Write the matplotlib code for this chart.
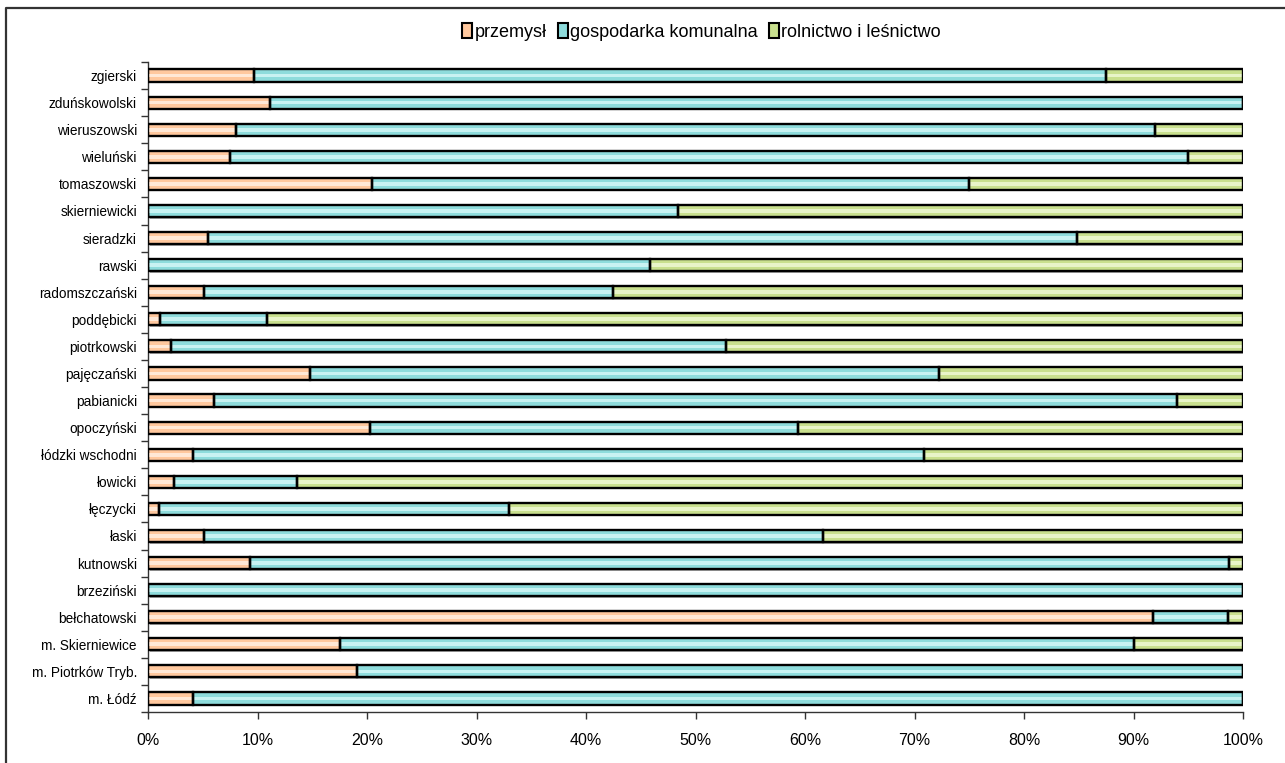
import matplotlib
matplotlib.use("Agg")
import matplotlib.pyplot as plt
import matplotlib.transforms as mtransforms
from matplotlib.patches import Patch
from matplotlib.lines import Line2D
import numpy as np

plt.rcParams['font.family'] = ['Liberation Sans', 'DejaVu Sans']

# Districts, listed bottom to top as drawn
districts = [
    "m. Łódź", "m. Piotrków Tryb.", "m. Skierniewice", "bełchatowski",
    "brzeziński", "kutnowski", "łaski", "łęczycki", "łowicki",
    "łódzki wschodni", "opoczyński", "pabianicki", "pajęczański",
    "piotrkowski", "poddębicki", "radomszczański", "rawski", "sieradzki",
    "skierniewicki", "tomaszowski", "wieluński", "wieruszowski",
    "zduńskowolski", "zgierski",
]

# Shares (%) per sector
przemysl = [4.1, 19.1, 17.5, 91.8, 0.0, 9.3, 5.1, 1.0, 2.4, 4.1, 20.3, 6.0,
            14.8, 2.1, 1.1, 5.1, 0.0, 5.5, 0.0, 20.5, 7.5, 8.0, 11.1, 9.7]
gospodarka = [95.9, 80.9, 72.5, 6.8, 100.0, 89.4, 56.5, 32.0, 11.2, 66.8,
              39.1, 88.0, 57.4, 50.7, 9.8, 37.4, 45.8, 79.3, 48.4, 54.5,
              87.5, 84.0, 88.9, 77.8]
rolnictwo = [0.0, 0.0, 10.0, 1.4, 0.0, 1.3, 38.4, 67.0, 86.4, 29.1, 40.6,
             6.0, 27.8, 47.2, 89.1, 57.5, 54.2, 15.2, 51.6, 25.0, 5.0, 8.0,
             0.0, 12.5]

series_names = ["przemysł", "gospodarka komunalna", "rolnictwo i leśnictwo"]
base_colors = ["#FFC89E", "#8EDCDC", "#C9E08E"]
light_colors = ["#FFE8D6", "#C8F2F2", "#E8F4C8"]

fig = plt.figure(figsize=(12.85, 7.63), dpi=100)
ax = fig.add_axes([148 / 1285, 1 - 712 / 763, (1243 - 148) / 1285, 650 / 763])

y = np.arange(len(districts))
bar_h = 0.45
data = [np.array(przemysl), np.array(gospodarka), np.array(rolnictwo)]
left = np.zeros(len(districts))

shadow_tr = mtransforms.offset_copy(ax.transData, fig=fig, x=1.5, y=-1.5, units='dots')
total = data[0] + data[1] + data[2]

# drop shadow under each whole bar
ax.barh(y, total, height=bar_h, left=0, color="#A8A8A8", edgecolor="none",
        transform=shadow_tr, zorder=1)

for vals, c, lc in zip(data, base_colors, light_colors):
    ax.barh(y, vals, height=bar_h, left=left, color=c, edgecolor="none", zorder=2)
    ax.barh(y, vals, height=bar_h * 0.3, left=left, color=lc, edgecolor="none", zorder=3)
    ax.barh(y, vals, height=bar_h, left=left, fill=False, edgecolor="black",
            linewidth=1.7, zorder=4)
    left = left + vals

ax.set_xlim(0, 100)
ax.set_ylim(-0.5, len(districts) - 0.5)
ax.set_xticks(np.arange(0, 101, 10))
ax.set_xticklabels([f"{v}%" for v in range(0, 101, 10)], fontsize=11.5)
ax.set_yticks(y)
ax.set_yticklabels(districts, fontsize=9.8)
ax.tick_params(axis='y', which='major', length=0, pad=8)
ax.set_yticks(np.arange(-0.5, len(districts), 1.0), minor=True)
ax.tick_params(axis='y', which='minor', length=5, width=1, color="#333333", direction='out')
ax.tick_params(axis='x', which='major', length=5, width=1, color="#333333", direction='out', pad=10)

for s in ["top", "right"]:
    ax.spines[s].set_visible(False)
for s in ["left", "bottom"]:
    ax.spines[s].set_color("#333333")
    ax.spines[s].set_linewidth(1.0)

handles = [Patch(facecolor=c, edgecolor="black", linewidth=1.5) for c in base_colors]
fig.legend(handles, series_names, loc="center", bbox_to_anchor=(0.546, 1 - 32 / 763),
           ncol=3, frameon=False, fontsize=13, handlelength=0.55, handleheight=0.9,
           handletextpad=0.15, columnspacing=0.6)

# chart area frame
fig.add_artist(Line2D([6 / 1285, 6 / 1285, 1.0], [0.0, 1 - 8 / 763, 1 - 8 / 763],
                      transform=fig.transFigure, color="#333333", linewidth=1.6))

fig.savefig("out.png", dpi=100)
